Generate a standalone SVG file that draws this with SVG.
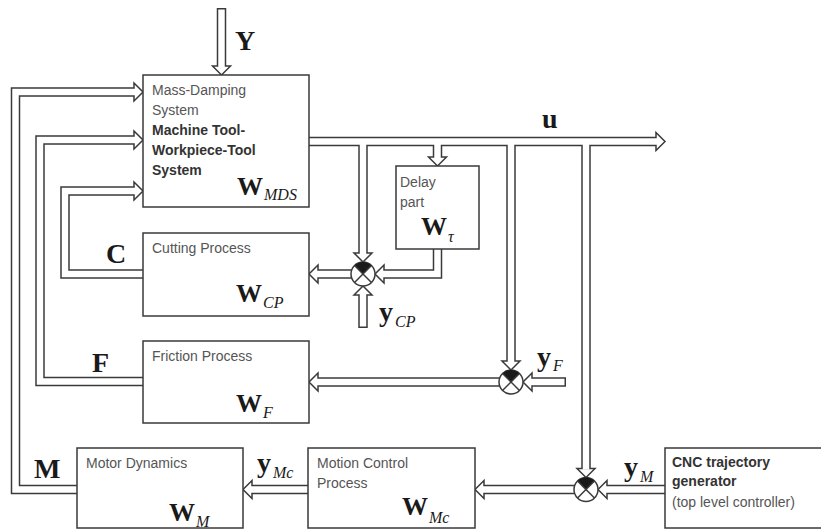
<svg xmlns="http://www.w3.org/2000/svg" xmlns:xlink="http://www.w3.org/1999/xlink" width="821" height="530" viewBox="0 0 821 530">
<defs>
<style>
.d{fill:none;stroke:#3a3a3a;stroke-width:9.5;stroke-linejoin:miter;stroke-linecap:butt}
.w{fill:none;stroke:#fff;stroke-width:6.5;stroke-linejoin:miter;stroke-linecap:butt}
.h{fill:#fff;stroke:#3a3a3a;stroke-width:1.5;stroke-linejoin:miter}
.box{fill:#fff;stroke:#3a3a3a;stroke-width:1.5}
.sj{fill:#fff;stroke:#3a3a3a;stroke-width:1.5}
.x{stroke:#3a3a3a;stroke-width:1.5}
.q{fill:#1a1a1a}
.t{font-family:"Liberation Sans",Arial,sans-serif;font-size:14px;fill:#555}
.tb{font-family:"Liberation Sans",Arial,sans-serif;font-size:14px;font-weight:bold;fill:#333}
.big{font-family:"Liberation Serif","Times New Roman",serif;font-size:28px;font-weight:bold;fill:#1a1a1a}
.bw{font-family:"Liberation Serif","Times New Roman",serif;font-size:26px;font-weight:bold;fill:#1a1a1a}
.sub{font-family:"Liberation Serif","Times New Roman",serif;font-size:16px;font-style:italic;fill:#1a1a1a}
</style>
<path id="ah" d="M-9,-9 L0,0 L-9,9 Z"/>
<g id="sumj">
<circle class="sj" cx="0" cy="0" r="12"/>
<path class="q" d="M0,0 L-8.49,-8.49 A12,12 0 0 1 8.49,-8.49 Z"/>
<line class="x" x1="-8.49" y1="-8.49" x2="8.49" y2="8.49"/>
<line class="x" x1="8.49" y1="-8.49" x2="-8.49" y2="8.49"/>
</g>
</defs>
<rect width="821" height="530" fill="#fff"/>

<g id="connectors">
<g class="d">
<path d="M221.5,8 V66"/>
<path d="M77,489.5 H15.5 V92 H134"/>
<path d="M143,381.5 H40 V140 H134"/>
<path d="M143,274 H65 V191 H134"/>
<path d="M309,141.5 H656"/>
<path d="M363,141.5 V253"/>
<path d="M437.5,141.5 V157"/>
<path d="M511,141.5 V361"/>
<path d="M586,141.5 V468.5"/>
<path d="M437.5,249 V274 H384"/>
<path d="M351,274 H318"/>
<path d="M363,328 V295"/>
<path d="M499,382 H318"/>
<path d="M566,382 H532"/>
<path d="M574,489.5 H484"/>
<path d="M665,489.5 H607"/>
<path d="M308,489.5 H252"/>
</g>
<g class="h">
<use xlink:href="#ah" transform="translate(221.5,75) rotate(90)"/>
<use xlink:href="#ah" transform="translate(143,92)"/>
<use xlink:href="#ah" transform="translate(143,140)"/>
<use xlink:href="#ah" transform="translate(143,191)"/>
<use xlink:href="#ah" transform="translate(665,141.5)"/>
<use xlink:href="#ah" transform="translate(363,262) rotate(90)"/>
<use xlink:href="#ah" transform="translate(437.5,166) rotate(90)"/>
<use xlink:href="#ah" transform="translate(511,370) rotate(90)"/>
<use xlink:href="#ah" transform="translate(586,477.5) rotate(90)"/>
<use xlink:href="#ah" transform="translate(375,274) rotate(180)"/>
<use xlink:href="#ah" transform="translate(309,274) rotate(180)"/>
<use xlink:href="#ah" transform="translate(363,286) rotate(-90)"/>
<use xlink:href="#ah" transform="translate(309,382) rotate(180)"/>
<use xlink:href="#ah" transform="translate(523,382) rotate(180)"/>
<use xlink:href="#ah" transform="translate(475,489.5) rotate(180)"/>
<use xlink:href="#ah" transform="translate(598,489.5) rotate(180)"/>
<use xlink:href="#ah" transform="translate(243,489.5) rotate(180)"/>
</g>
<g class="w">
<path d="M221.5,9.5 V67"/>
<path d="M77,489.5 H15.5 V92 H135"/>
<path d="M143,381.5 H40 V140 H135"/>
<path d="M143,274 H65 V191 H135"/>
<path d="M309,141.5 H657"/>
<path d="M363,141.5 V254"/>
<path d="M437.5,141.5 V158"/>
<path d="M511,141.5 V362"/>
<path d="M586,141.5 V469.5"/>
<path d="M437.5,249 V274 H383"/>
<path d="M351,274 H317"/>
<path d="M363,326.5 V294"/>
<path d="M499,382 H317"/>
<path d="M564.5,382 H531"/>
<path d="M574,489.5 H483"/>
<path d="M665,489.5 H606"/>
<path d="M308,489.5 H251"/>
</g>
</g>

<g id="sum-cp"><use xlink:href="#sumj" transform="translate(363,274)"/></g>
<g id="sum-f"><use xlink:href="#sumj" transform="translate(511,382)"/></g>
<g id="sum-m"><use xlink:href="#sumj" transform="translate(586,489.5)"/></g>

<g id="mds">
<rect class="box" x="143" y="75" width="166" height="132"/>
<text class="t" x="152" y="95">Mass-Damping</text>
<text class="t" x="152" y="115">System</text>
<text class="tb" x="152" y="135">Machine Tool-</text>
<text class="tb" x="152" y="155">Workpiece-Tool</text>
<text class="tb" x="152" y="175">System</text>
<text class="bw" x="237" y="195">W</text>
<text class="sub" x="264" y="200">MDS</text>
</g>

<g id="delay">
<rect class="box" x="396" y="166" width="83" height="83"/>
<text class="t" x="400" y="187">Delay</text>
<text class="t" x="400" y="207">part</text>
<text class="bw" x="421" y="235">W</text>
<text class="sub" x="448" y="242">τ</text>
</g>

<g id="cutting">
<rect class="box" x="143" y="233" width="166" height="83"/>
<text class="t" x="152" y="253">Cutting Process</text>
<text class="bw" x="236" y="302">W</text>
<text class="sub" x="263" y="308">CP</text>
</g>

<g id="friction">
<rect class="box" x="143" y="341" width="166" height="82"/>
<text class="t" x="152" y="361">Friction Process</text>
<text class="bw" x="236" y="412">W</text>
<text class="sub" x="263" y="418">F</text>
</g>

<g id="motor">
<rect class="box" x="77" y="448" width="166" height="80"/>
<text class="t" x="86" y="468">Motor Dynamics</text>
<text class="bw" x="169" y="521">W</text>
<text class="sub" x="196" y="527">M</text>
</g>

<g id="motion">
<rect class="box" x="308" y="448" width="167" height="80"/>
<text class="t" x="317" y="468">Motion Control</text>
<text class="t" x="317" y="488">Process</text>
<text class="bw" x="402" y="515">W</text>
<text class="sub" x="429" y="523">Mc</text>
</g>

<g id="cnc">
<rect class="box" x="665" y="448" width="160" height="80"/>
<text class="tb" x="672" y="467">CNC trajectory</text>
<text class="tb" x="672" y="486">generator</text>
<text class="t" x="672" y="507">(top level controller)</text>
</g>

<g id="labels">
<text class="big" x="235" y="50">Y</text>
<text class="big" x="542" y="128">u</text>
<text class="big" x="106" y="263">C</text>
<text class="big" x="92" y="372">F</text>
<text class="big" x="34" y="478">M</text>
<text class="big" x="379" y="321">y</text>
<text class="sub" x="395" y="327">CP</text>
<text class="big" x="537" y="366">y</text>
<text class="sub" x="553" y="371">F</text>
<text class="big" x="257" y="472">y</text>
<text class="sub" x="273" y="478">Mc</text>
<text class="big" x="624" y="476">y</text>
<text class="sub" x="640" y="482">M</text>
</g>
</svg>
